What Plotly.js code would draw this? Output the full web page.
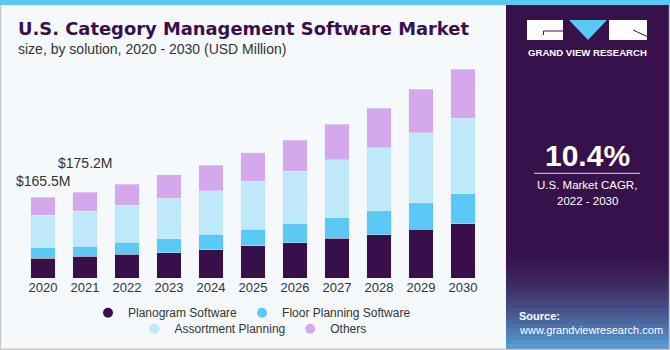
<!DOCTYPE html>
<html>
<head>
<meta charset="utf-8">
<script src="https://cdn.plot.ly/plotly-3.0.1.min.js"></script>
<style>html,body{margin:0;padding:0;background:#f5f9fc;}#chart{width:670px;height:350px;}</style>
</head>
<body>
<div id="chart"></div>
<script>
// ---- data ----
const years = ['2020','2021','2022','2023','2024','2025','2026','2027','2028','2029','2030'];
const planogram  = [40.9, 45.0, 48.4, 51.7, 57.8, 66.0, 72.0, 80.8, 88.4, 99.2, 110.8];
const floorPlan  = [21.0, 20.4, 24.5, 28.6, 31.4, 33.3, 38.8, 42.9, 49.0, 54.5, 61.8];
const assortment = [66.0, 71.0, 75.5, 83.0, 89.0, 98.8, 108.0, 117.7, 129.2, 143.5, 153.9];
const others     = [37.6, 38.8, 43.5, 47.6, 52.4, 57.8, 63.3, 73.5, 81.0, 88.6, 100.0];
const seriesNames = ['Planogram Software','Floor Planning Software','Assortment Planning','Others'];
const labelYears = ['2020','2021'];
const labelTexts = ['$165.5M','$175.2M'];
const cagrText = '10.4%';

// ---- layout helpers (pixel -> paper) ----
const L = 22, R = 484, T = 60, B = 278;
const px = x => (x - L) / (R - L);
const py = y => (B - y) / (B - T);

const colors = ['#37104a','#5bc9f5','#bde9f9','#d4a8ec'];
const values = [planogram, floorPlan, assortment, others];

const traces = [];
values.forEach((v, i) => {
  traces.push({type:'bar', x: years, y: v, name: seriesNames[i], showlegend:false,
    marker:{color: colors[i], line:{color:'rgba(230,236,245,0.7)', width:0.6}}, hoverinfo:'x+y'});
});
// legend-only markers on a hidden helper axis
values.forEach((v, i) => {
  traces.push({type:'scatter', mode:'markers', x:[0], y:[0], xaxis:'x2', yaxis:'y2', name: seriesNames[i],
    legend: i < 2 ? 'legend' : 'legend2',
    marker:{color: colors[i], size:10, symbol:'circle'}});
});

const totals = years.map((_, i) => values.reduce((s, v) => s + v[i], 0));
const labelShift = [6, 19];

const annotations = [];
labelYears.forEach((yr, k) => {
  const idx = years.indexOf(yr);
  annotations.push({x: idx, y: totals[idx], xref:'x', yref:'y', text: labelTexts[k], showarrow:false,
    xanchor:'center', yanchor:'bottom', yshift: labelShift[k], font:{family:'Liberation Sans, Arial', size:14, color:'#333'}});
});
// title + subtitle
annotations.push({xref:'paper', yref:'paper', x: px(16), y: py(28.5), xanchor:'left', yanchor:'middle', showarrow:false,
  text:'<b>U.S. Category Management Software Market</b>', font:{family:'DejaVu Sans', size:17.9, color:'#3a0f4c'}});
annotations.push({xref:'paper', yref:'paper', x: px(16), y: py(49), xanchor:'left', yanchor:'middle', showarrow:false,
  text:'size, by solution, 2020 - 2030 (USD Million)', font:{family:'Liberation Sans, Arial', size:14, color:'#333'}});
// right panel texts
annotations.push({xref:'paper', yref:'paper', x: px(587), y: py(52), xanchor:'center', yanchor:'middle', showarrow:false,
  text:'<b>GRAND VIEW RESEARCH</b>', font:{family:'Liberation Sans, Arial', size:9.6, color:'#ffffff'}});
annotations.push({xref:'paper', yref:'paper', x: px(587), y: py(155.5), xanchor:'center', yanchor:'middle', showarrow:false,
  text:'<b>' + cagrText + '</b>', font:{family:'Liberation Sans, Arial', size:30, color:'#ffffff'}});
annotations.push({xref:'paper', yref:'paper', x: px(587), y: py(185), xanchor:'center', yanchor:'middle', showarrow:false,
  text:'U.S. Market CAGR,', font:{family:'Liberation Sans, Arial', size:11.5, color:'#ffffff'}});
annotations.push({xref:'paper', yref:'paper', x: px(587), y: py(201), xanchor:'center', yanchor:'middle', showarrow:false,
  text:'2022 - 2030', font:{family:'Liberation Sans, Arial', size:11.5, color:'#ffffff'}});
annotations.push({xref:'paper', yref:'paper', x: px(517), y: py(316), xanchor:'left', yanchor:'middle', showarrow:false,
  text:'<b>Source:</b>', font:{family:'Liberation Sans, Arial', size:11, color:'#ffffff'}});
annotations.push({xref:'paper', yref:'paper', x: px(517), y: py(330), xanchor:'left', yanchor:'middle', showarrow:false,
  text:'www.grandviewresearch.com', font:{family:'Liberation Sans, Arial', size:11, color:'#ffffff'}});

// shapes
const shapes = [];
const rect = (x0, y0, x1, y1, color) => shapes.push({type:'rect', xref:'paper', yref:'paper',
  x0: px(x0), x1: px(x1), y0: py(y1), y1: py(y0), fillcolor: color, line:{width:0}, layer:'above'});
// panel
rect(506, 0, 670, 350, '#371149');
// gradient bands at bottom of the panel
const g0 = [55,17,73], g1 = [86,160,214];
const nb = 24, gy0 = 250, gy1 = 348;
for (let k = 0; k < nb; k++) {
  const t = Math.pow((k + 0.5) / nb, 1.6);
  const c = g0.map((a, j) => Math.round(a + (g1[j] - a) * t));
  const y0 = gy0 + (gy1 - gy0) * k / nb, y1 = gy0 + (gy1 - gy0) * (k + 1) / nb + 0.5;
  rect(506, y0, 670, y1, 'rgb(' + c.join(',') + ')');
}
// top stripe & borders
rect(0, 0, 670, 5, '#5bc8f2');
rect(0, 5, 1.2, 350, '#c8c8c8');
rect(0, 348.5, 670, 350, '#c8c8c8');
rect(668.8, 5, 670, 350, '#c8c8c8');
// logo
rect(527, 20, 563, 40, '#ffffff');
rect(609, 20, 647, 40, '#ffffff');
shapes.push({type:'path', xref:'paper', yref:'paper', layer:'above', fillcolor:'#5bc8f5', line:{width:0},
  path:'M ' + px(569) + ' ' + py(20) + ' L ' + px(607) + ' ' + py(20) + ' L ' + px(588) + ' ' + py(40) + ' Z'});
shapes.push({type:'path', xref:'paper', yref:'paper', layer:'above', line:{color:'#371149', width:1},
  path:'M ' + px(563) + ' ' + py(31) + ' L ' + px(543.5) + ' ' + py(31) + ' L ' + px(543.5) + ' ' + py(35)});
shapes.push({type:'path', xref:'paper', yref:'paper', layer:'above', line:{color:'#371149', width:1},
  path:'M ' + px(633) + ' ' + py(30) + ' L ' + px(647) + ' ' + py(36.5)});
// separator line under CAGR
shapes.push({type:'line', xref:'paper', yref:'paper', layer:'above', x0: px(534), x1: px(640), y0: py(173.3), y1: py(173.3),
  line:{color:'#d8d0e0', width:1}});

const legendFont = {family:'Liberation Sans, Arial', size:12, color:'#333'};
const layout = {
  width: 670, height: 350,
  margin: {l: L, r: 670 - R, t: T, b: 350 - B, pad: 0},
  paper_bgcolor: '#f5f9fc', plot_bgcolor: '#f5f9fc',
  barmode: 'stack', bargap: 0.42,
  font: {family:'Liberation Sans, Arial', color:'#333'},
  xaxis: {type:'category', categoryorder:'array', categoryarray: years, range:[-0.5, years.length - 0.5],
    showgrid:false, zeroline:false, showline:false, ticks:'',
    tickfont:{family:'Liberation Sans, Arial', size:13, color:'#333'}, fixedrange:true},
  yaxis: {visible:false, range:[0, (B - T) / 0.489], fixedrange:true},
  xaxis2: {visible:false, domain:[0, 0.01], range:[10, 11], anchor:'y2'},
  yaxis2: {visible:false, domain:[0, 0.01], range:[10, 11], anchor:'x2'},
  legend: {orientation:'h', xref:'container', yref:'container', x: 252 / 670, xanchor:'center',
    y: 1 - 312.7 / 350, yanchor:'middle', font: legendFont, bgcolor:'rgba(0,0,0,0)', traceorder:'normal'},
  legend2: {orientation:'h', xref:'container', yref:'container', x: 253 / 670, xanchor:'center',
    y: 1 - 328.7 / 350, yanchor:'middle', font: legendFont, bgcolor:'rgba(0,0,0,0)', traceorder:'normal'},
  annotations: annotations,
  shapes: shapes,
  showlegend: true
};
Plotly.newPlot('chart', traces, layout, {displayModeBar:false, staticPlot:true});
</script>
</body>
</html>
